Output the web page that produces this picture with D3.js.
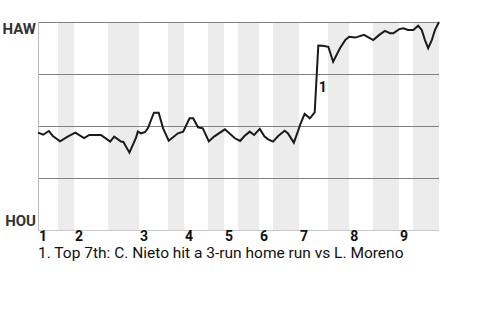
<!DOCTYPE html>
<html>
<head>
<meta charset="utf-8">
<script src="https://cdn.jsdelivr.net/npm/d3@7"></script>
<style>
  body { margin: 0; background: #fff; }
  svg { display: block; }
</style>
</head>
<body>
<svg id="chart" width="480" height="320"></svg>
<script>
// team labels: top of chart = HAW wins, bottom = HOU wins
var teams = ["HAW", "HOU"];

// game progress (0-100) and HAW win probability at each play
var progress = [0, 1.3, 2.7, 3.7, 5.5, 7.4, 9.3, 11.5, 12.8, 15.7, 18.0, 19.0, 20.7, 21.3, 22.8, 24.4,
  24.9, 25.7, 26.7, 27.4, 28.9, 30.1, 31.2, 32.6, 34.9, 36.2, 37.8, 38.7, 39.9, 41.1, 42.6, 43.9,
  46.6, 49.1, 50.4, 51.5, 52.8, 53.9, 55.3, 56.5, 57.4, 58.6, 59.9, 61.5, 62.3, 63.8, 64.8, 65.5,
  66.5, 67.8, 69.0, 69.9, 71.0, 72.4, 73.6, 75.3, 76.6, 77.6, 79.1, 81.3, 83.6, 85.1, 86.5, 87.8,
  88.6, 90.1, 91.1, 92.3, 93.6, 94.8, 95.7, 96.5, 97.3, 98.2, 99.0, 100];
var haw_prob = [0.468, 0.458, 0.476, 0.452, 0.426, 0.449, 0.468, 0.442, 0.457, 0.457, 0.425, 0.449, 0.425, 0.423, 0.372, 0.441,
  0.473, 0.464, 0.471, 0.489, 0.564, 0.564, 0.489, 0.429, 0.465, 0.473, 0.537, 0.537, 0.494, 0.489, 0.426, 0.449,
  0.484, 0.441, 0.428, 0.452, 0.473, 0.457, 0.486, 0.449, 0.436, 0.425, 0.452, 0.477, 0.465, 0.420, 0.473, 0.513,
  0.558, 0.537, 0.565, 0.887, 0.886, 0.881, 0.809, 0.874, 0.913, 0.929, 0.925, 0.938, 0.913, 0.938, 0.957, 0.946,
  0.946, 0.966, 0.970, 0.962, 0.962, 0.982, 0.962, 0.913, 0.874, 0.913, 0.962, 1.0];

// innings: where each top half and bottom half starts
var inning_labels = ["1", "2", "3", "4", "5", "6", "7", "8", "9"];
var inning_start = [0, 9, 25.2, 36.4, 46.4, 55.1, 65.1, 77.6, 90];
var bottom_start = [5, 17.5, 32.4, 42.4, 49.9, 58.6, 72.3, 83.5, 93.5];

var grid_ticks = [0.25, 0.5, 0.75, 1];

// key plays
var event_at = [69.9];
var event_before = [0.565];
var event_after = [0.887];
var event_text = ["Top 7th: C. Nieto hit a 3-run home run vs L. Moreno"];

var margin = {top: 22, right: 41, bottom: 90, left: 38};
var width = 480 - margin.left - margin.right;
var height = 320 - margin.top - margin.bottom;

var svg = d3.select("#chart");
var g = svg.append("g")
  .attr("transform", "translate(" + margin.left + "," + margin.top + ")");

var x = d3.scaleLinear().domain([0, 100]).range([0, width]);
var y = d3.scaleLinear().domain([0, 1]).range([height, 0]);

// shaded bottom halves
g.selectAll(".band").data(bottom_start)
  .enter()
  .append("rect")
    .attr("class", "band")
    .attr("x", d => x(d))
    .attr("y", 0)
    .attr("width", (d, i) => x(i + 1 < inning_start.length ? inning_start[i + 1] : 100) - x(d))
    .attr("height", height)
    .style("fill", "#ececec");

// horizontal grid
g.selectAll(".grid").data(grid_ticks)
  .enter()
  .append("line")
    .attr("class", "grid")
    .attr("x1", 0)
    .attr("x2", width)
    .attr("y1", d => Math.round(y(d)) + 0.5)
    .attr("y2", d => Math.round(y(d)) + 0.5)
    .style("stroke", "#808080")
    .style("stroke-width", 1);

// axis lines
g.append("line")
  .attr("x1", 0.5).attr("x2", 0.5)
  .attr("y1", 0).attr("y2", height)
  .style("stroke", "#bbbbbb");
g.append("line")
  .attr("x1", 0).attr("x2", width)
  .attr("y1", height + 0.5).attr("y2", height + 0.5)
  .style("stroke", "#c8c8c8");

// win probability line
var line = d3.line()
  .x(d => x(d[0]))
  .y(d => y(d[1]));

g.append("path")
  .datum(d3.zip(progress, haw_prob))
  .attr("d", line)
  .style("fill", "none")
  .style("stroke", "#1a1a1a")
  .style("stroke-width", 2)
  .style("stroke-linejoin", "miter");

// team labels
svg.append("text")
  .text(teams[0])
  .attr("x", margin.left - 2)
  .attr("y", margin.top + 12)
  .attr("fill", "#333")
  .style("text-anchor", "end")
  .style("font-family", "Roboto, sans-serif")
  .style("font-weight", "bold")
  .style("font-size", "15px");

svg.append("text")
  .text(teams[1])
  .attr("x", margin.left - 2)
  .attr("y", margin.top + height - 4)
  .attr("fill", "#333")
  .style("text-anchor", "end")
  .style("font-family", "Roboto, sans-serif")
  .style("font-weight", "bold")
  .style("font-size", "15px");

// inning numbers
g.selectAll(".inning").data(inning_labels)
  .enter()
  .append("text")
    .attr("class", "inning")
    .attr("x", (d, i) => x(inning_start[i]) + 1)
    .attr("y", height + 11)
    .text(d => d)
    .attr("fill", "#111")
    .style("font-family", "Roboto, sans-serif")
    .style("font-weight", "bold")
    .style("font-size", "14px");

// event markers on the line
g.selectAll(".ev").data(event_at)
  .enter()
  .append("text")
    .attr("class", "ev")
    .attr("x", d => x(d) + 0.5)
    .attr("y", (d, i) => (y(event_before[i]) + y(event_after[i])) / 2 + 13)
    .text((d, i) => i + 1)
    .attr("fill", "#111")
    .style("font-family", "Roboto, sans-serif")
    .style("font-weight", "bold")
    .style("font-size", "14px");

// footnotes
g.selectAll(".note").data(event_text)
  .enter()
  .append("text")
    .attr("class", "note")
    .attr("x", 0)
    .attr("y", (d, i) => height + 28 + i * 16)
    .text((d, i) => (i + 1) + ". " + d)
    .attr("fill", "#111")
    .style("font-family", "Roboto, sans-serif")
    .style("font-size", "15.5px");
</script>
</body>
</html>
